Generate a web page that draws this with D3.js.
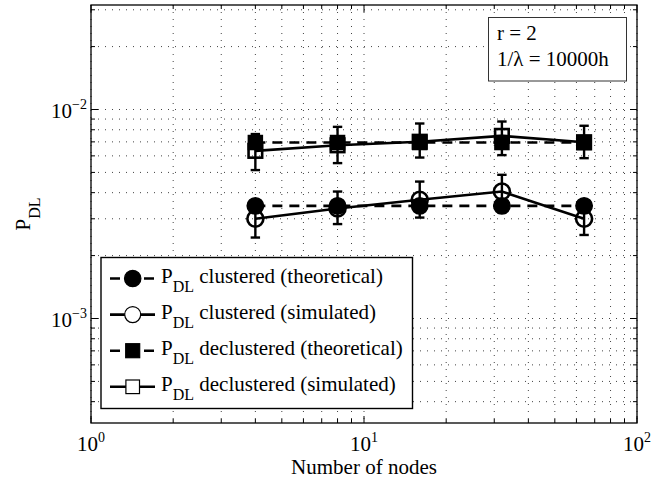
<!DOCTYPE html>
<html>
<head>
<meta charset="utf-8">
<script src="https://cdn.jsdelivr.net/npm/d3@7"></script>
<style>
body { margin: 0; background: #fff; }
svg text { font-family: "Liberation Serif", "DejaVu Serif", "Times New Roman", serif; fill: #000; }
</style>
</head>
<body>
<div id="chart"></div>
<script>
'use strict'
// values
var nodes = [4, 8, 16, 32, 64];
var clusteredTheo = [0.00346, 0.00346, 0.00346, 0.00346, 0.00346];
var clusteredSim = [0.0030, 0.00336, 0.0037, 0.00405, 0.0030];
var clusteredLo = [0.00244, 0.00283, 0.00304, 0.00322, 0.00251];
var clusteredHi = [0.00356, 0.00405, 0.00452, 0.00487, 0.00349];
var declTheo = [0.00695, 0.00695, 0.00695, 0.00695, 0.00695];
var declSim = [0.00634, 0.00674, 0.00701, 0.00748, 0.00697];
var declLo = [0.00513, 0.00554, 0.00589, 0.00605, 0.00585];
var declHi = [0.00763, 0.00826, 0.00857, 0.00876, 0.00836];
var xDomain = [1, 100];
var yDomain = [Math.pow(10, -3.5), Math.pow(10, -1.5)];
var xTicks = [1, 10, 100];
var yTicks = [0.001, 0.01];
var xLabel = "Number of nodes";
var noteLines = ["r = 2", "1/\u03bb = 10000h"];
var legendNames = ["clustered (theoretical)", "clustered (simulated)",
	"declustered (theoretical)", "declustered (simulated)"];

var FONT = "'Liberation Serif', 'DejaVu Serif', serif";
var W = 665, H = 481;
var margin = {top: 5, right: 28, bottom: 58, left: 91};
var w = W - margin.left - margin.right;
var h = H - margin.top - margin.bottom;

var svg = d3.select("#chart").append("svg").attr("width", W).attr("height", H)
	.attr("font-family", FONT);
var g = svg.append("g").attr("transform", "translate(" + margin.left + "," + margin.top + ")");

var x = d3.scaleLog().domain(xDomain).range([0, w]);
var y = d3.scaleLog().domain(yDomain).range([h, 0]);

// minor positions for grid + ticks
function minorList(lo, hi) {
	var out = [];
	for (var e = Math.floor(Math.log10(lo)); e <= Math.ceil(Math.log10(hi)); e++) {
		for (var k = 1; k <= 9; k++) {
			var v = k * Math.pow(10, e);
			if (v >= lo * 0.9999 && v <= hi * 1.0001) out.push(v);
		}
	}
	return out;
}
var xAll = minorList(xDomain[0], xDomain[1]);
var yAll = minorList(yDomain[0], yDomain[1]);

// grid
var grid = g.append("g").attr("class", "grid")
	.style("stroke", "#444").style("stroke-width", 1).style("stroke-dasharray", "1,6");
grid.selectAll("line.gx").data(xAll).enter().append("line")
	.attr("x1", function(d) { return x(d); }).attr("x2", function(d) { return x(d); })
	.attr("y1", 0).attr("y2", h);
grid.selectAll("line.gy").data(yAll).enter().append("line")
	.attr("y1", function(d) { return y(d); }).attr("y2", function(d) { return y(d); })
	.attr("x1", 0).attr("x2", w);

// ticks on all four sides, pointing inward
function isMajor(v) { return Math.abs(Math.log10(v) - Math.round(Math.log10(v))) < 1e-6; }
var ticks = g.append("g").style("stroke", "#000").style("stroke-width", 1);
xAll.forEach(function(v) {
	var len = isMajor(v) ? 7 : 4;
	ticks.append("line").attr("x1", x(v)).attr("x2", x(v)).attr("y1", h).attr("y2", h - len);
	ticks.append("line").attr("x1", x(v)).attr("x2", x(v)).attr("y1", 0).attr("y2", len);
});
yAll.forEach(function(v) {
	var len = isMajor(v) ? 7 : 4;
	ticks.append("line").attr("y1", y(v)).attr("y2", y(v)).attr("x1", 0).attr("x2", len);
	ticks.append("line").attr("y1", y(v)).attr("y2", y(v)).attr("x1", w).attr("x2", w - len);
});

g.append("rect").attr("width", w).attr("height", h)
	.style("fill", "none").style("stroke", "#000").style("stroke-width", 1.3);

// tick labels 10^n
function powLabel(sel, v) {
	var e = Math.round(Math.log10(v));
	sel.append("tspan").text("10").attr("font-size", 21);
	sel.append("tspan").text(e < 0 ? "\u2212" + (-e) : String(e))
		.attr("dy", -9).attr("font-size", 14);
}
xTicks.forEach(function(v) {
	var t = g.append("text").attr("x", x(v)).attr("y", h + 28).attr("text-anchor", "middle");
	powLabel(t, v);
});
yTicks.forEach(function(v) {
	var t = g.append("text").attr("x", -4).attr("y", y(v) + 8.5).attr("text-anchor", "end");
	powLabel(t, v);
});

// axis titles
g.append("text").attr("x", w / 2).attr("y", h + 51).attr("text-anchor", "middle")
	.attr("font-size", 21).text(xLabel);
var yl = svg.append("text").attr("transform", "translate(30," + (margin.top + h / 2) + ") rotate(-90)")
	.attr("text-anchor", "middle");
yl.append("tspan").text("P").attr("font-size", 21);
yl.append("tspan").text("DL").attr("dy", 10).attr("font-size", 16);

// series
var plot = g.append("g");
function drawLine(vals, dashed) {
	var line = d3.line()
		.x(function(d, i) { return x(nodes[i]); })
		.y(function(d) { return y(d); });
	plot.append("path").datum(vals).attr("d", line)
		.style("fill", "none").style("stroke", "#000").style("stroke-width", 2.6)
		.style("stroke-dasharray", dashed ? "10,7" : null);
}
function drawErrors(lo, hi) {
	nodes.forEach(function(n, i) {
		var cx = x(n);
		var e = plot.append("g").style("stroke", "#000").style("stroke-width", 2.4);
		e.append("line").attr("x1", cx).attr("x2", cx).attr("y1", y(lo[i])).attr("y2", y(hi[i]));
		e.append("line").attr("x1", cx - 4.7).attr("x2", cx + 4.7).attr("y1", y(lo[i])).attr("y2", y(lo[i]));
		e.append("line").attr("x1", cx - 4.7).attr("x2", cx + 4.7).attr("y1", y(hi[i])).attr("y2", y(hi[i]));
	});
}
function drawMarkers(parent, vals, shape, filled, sw) {
	vals.forEach(function(v, i) {
		marker(parent, x(nodes[i]), y(v), shape, filled, sw);
	});
}
function marker(parent, cx, cy, shape, filled, sw) {
	var m;
	if (shape === "circle") {
		m = parent.append("circle").attr("cx", cx).attr("cy", cy).attr("r", filled ? 8.2 : 8);
	} else {
		var s = filled ? 14 : 13.6;
		m = parent.append("rect").attr("x", cx - s / 2).attr("y", cy - s / 2).attr("width", s).attr("height", s);
	}
	m.style("fill", filled ? "#000" : "none").style("stroke", "#000").style("stroke-width", sw);
	return m;
}

drawLine(clusteredTheo, true);
drawMarkers(plot, clusteredTheo, "circle", true, 1.5);
drawErrors(clusteredLo, clusteredHi);
drawLine(clusteredSim, false);
drawMarkers(plot, clusteredSim, "circle", false, 2.6);
drawLine(declTheo, true);
drawMarkers(plot, declTheo, "square", true, 1.5);
drawErrors(declLo, declHi);
drawLine(declSim, false);
drawMarkers(plot, declSim, "square", false, 2.6);

// note box
var nb = svg.append("g");
nb.append("rect").attr("x", 488.5).attr("y", 17.5).attr("width", 138).attr("height", 63.5)
	.style("fill", "#fff").style("stroke", "#333").style("stroke-width", 1);
noteLines.forEach(function(s, i) {
	nb.append("text").attr("x", 497).attr("y", 40 + i * 26).attr("font-size", 21).text(s);
});

// legend
var lg = svg.append("g");
lg.append("rect").attr("x", 101).attr("y", 257.5).attr("width", 311.5).attr("height", 151)
	.style("fill", "#fff").style("stroke", "#000").style("stroke-width", 1.4);
var legendStyle = [
	{shape: "circle", filled: true, dashed: true},
	{shape: "circle", filled: false, dashed: false},
	{shape: "square", filled: true, dashed: true},
	{shape: "square", filled: false, dashed: false}
];
legendNames.forEach(function(name, i) {
	var cy = 278.5 + i * 36.1;
	var st = legendStyle[i];
	lg.append("line").attr("x1", 110).attr("x2", 155).attr("y1", cy).attr("y2", cy)
		.style("stroke", "#000").style("stroke-width", 2.6)
		.style("stroke-dasharray", st.dashed ? "10,7" : null);
	var m = marker(lg, 132.7, cy, st.shape, st.filled, 1.2);
	if (!st.filled) m.style("fill", "#fff");
	var t = lg.append("text").attr("x", 161).attr("y", cy + 4.5);
	t.append("tspan").text("P").attr("font-size", 21);
	t.append("tspan").text("DL").attr("dy", 9).attr("font-size", 16);
	t.append("tspan").text(" " + name).attr("dy", -9).attr("font-size", 21);
});
</script>
</body>
</html>
